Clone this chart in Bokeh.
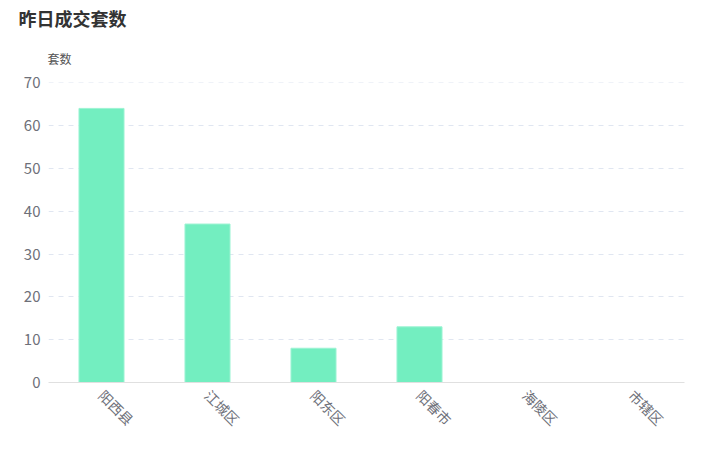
import math
from bokeh.plotting import figure
from bokeh.models import ColumnDataSource, Title, FixedTicker
from bokeh.embed import file_html
from bokeh.resources import INLINE

categories = ["阳西县", "江城区", "阳东区", "阳春市", "海陵区", "市辖区"]
values = [64, 37, 8, 13, 0, 0]
y_ticks = [0, 10, 20, 30, 40, 50, 60, 70]

FONT = "Noto Sans CJK SC"

src = ColumnDataSource(dict(cat=categories, val=values))

p = figure(x_range=categories, y_range=(0, 70.05), width=695, height=451,
           output_backend="svg", toolbar_location=None, title=None,
           min_border_left=48, min_border_right=11,
           min_border_top=82, min_border_bottom=69)
p.frame_width = 636
p.frame_height = 300
p.outline_line_color = None
p.background_fill_color = "white"

p.vbar(x="cat", top="val", width=0.425, source=src,
       fill_color="#73EEC0", line_color="#9DF3D3", line_width=1)

p.yaxis.ticker = FixedTicker(ticks=y_ticks)
p.yaxis.axis_line_color = None
p.yaxis.major_tick_line_color = None
p.yaxis.minor_tick_line_color = None
p.yaxis.major_label_text_font = FONT
p.yaxis.major_label_text_font_size = "15px"
p.yaxis.major_label_text_color = "#6E7079"
p.yaxis.major_label_standoff = 2

p.xaxis.axis_line_color = "#E0E0E0"
p.xaxis.major_tick_line_color = None
p.xaxis.minor_tick_line_color = None
p.xaxis.major_label_orientation = -math.pi / 4
p.xaxis.major_label_text_font = FONT
p.xaxis.major_label_text_font_size = "14px"
p.xaxis.major_label_text_color = "#6E7079"
p.xaxis.major_label_standoff = 4

p.xgrid.grid_line_color = None
p.ygrid.grid_line_color = "#E0E6F1"
p.ygrid.grid_line_dash = "5 5"

yname = Title(text="套数", align="left", offset=-1, standoff=31,
              text_font=FONT, text_font_size="12px", text_font_style="normal",
              text_color="#555555")
p.add_layout(yname, "above")
title = Title(text="昨日成交套数", align="left", offset=-30, standoff=3,
              text_font=FONT, text_font_size="18px", text_font_style="bold",
              text_color="#333333")
p.add_layout(title, "above")

open("out.html", "w").write(file_html(p, INLINE))
